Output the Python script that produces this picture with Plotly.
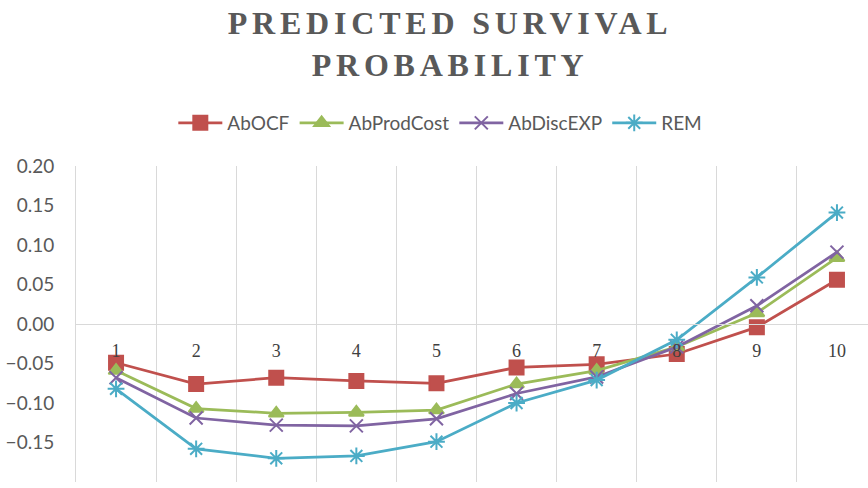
import plotly.graph_objects as go

categories = ["1", "2", "3", "4", "5", "6", "7", "8", "9", "10"]
abocf = [-0.049, -0.076, -0.068, -0.072, -0.075, -0.055, -0.051, -0.038, -0.004, 0.056]
abprodcost = [-0.059, -0.107, -0.113, -0.112, -0.109, -0.076, -0.059, -0.029, 0.014, 0.084]
abdiscexp = [-0.068, -0.119, -0.128, -0.129, -0.120, -0.088, -0.067, -0.029, 0.023, 0.091]
rem = [-0.082, -0.158, -0.170, -0.167, -0.149, -0.100, -0.071, -0.020, 0.059, 0.141]
y_ticks = [0.20, 0.15, 0.10, 0.05, 0.00, -0.05, -0.10, -0.15, -0.20]

series = [
    ("AbOCF", abocf, "#C0504D", "square", 14),
    ("AbProdCost", abprodcost, "#9BBB59", "triangle-up", 13),
    ("AbDiscEXP", abdiscexp, "#8064A2", "x-thin-open", 13),
    ("REM", rem, "#4BACC6", "asterisk-open", 14),
]

fig = go.Figure()
for name, vals, color, sym, size in series:
    fig.add_trace(go.Scatter(
        x=categories, y=vals, name=name, mode="lines+markers",
        line=dict(color=color, width=2.75),
        marker=dict(symbol=sym, size=size, color=color,
                    line=dict(color=color, width=2)),
    ))

fig.update_layout(
    width=868, height=488,
    margin=dict(l=76, r=0, t=166, b=6),
    paper_bgcolor="white", plot_bgcolor="white",
    title=dict(
        text="<b>PREDICTED SURVIVAL<br>PROBABILITY</b>",
        x=0.5185, xanchor="center", xref="container",
        y=0.93, yanchor="middle", yref="container",
        font=dict(family="Liberation Serif", size=32, color="#595959"),
    ),
    legend=dict(
        orientation="h", x=0.46, xanchor="center", y=1.136, yanchor="middle",
        font=dict(family="Lato", size=19, color="#595959"),
        itemwidth=44,
    ),
    showlegend=True,
)

fig.update_xaxes(
    type="category", range=[-0.5, 9.3875],
    anchor="free", position=0.5,
    tickson="boundaries", showgrid=True, gridcolor="#D9D9D9", gridwidth=1,
    showline=True, linecolor="#D9D9D9", linewidth=1,
    ticks="", ticklabelstandoff=10,
    tickfont=dict(family="Liberation Serif", size=18, color="#404040"),
    zeroline=False,
)
fig.update_yaxes(
    range=[-0.2, 0.2], tickvals=y_ticks, tickformat=".2f",
    showgrid=False, zeroline=False, showline=True, linecolor="#D9D9D9", linewidth=1,
    ticks="", ticklabelstandoff=17,
    tickfont=dict(family="Lato", size=19, color="#595959"),
)

post = """
var t = document.querySelectorAll('.gtitle');
t.forEach(function(e){ e.style.letterSpacing = '4.8px'; });
"""

fig.write_html("out.html", post_script=post)
